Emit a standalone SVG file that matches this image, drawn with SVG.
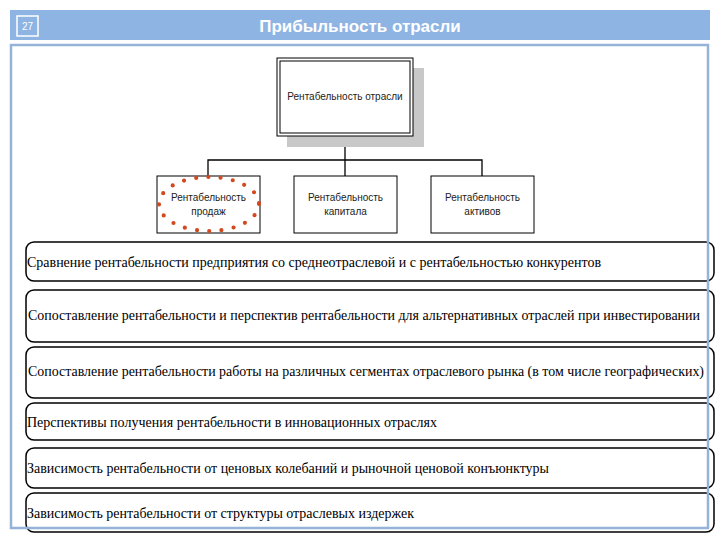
<svg xmlns="http://www.w3.org/2000/svg" width="720" height="540" viewBox="0 0 720 540">
<style>
.hdr{fill:#8eb4e3}
.ttl{font-family:'Liberation Sans',Arial,sans-serif;font-weight:bold;font-size:17px;fill:#fff}
.org{fill:#fff;stroke:#000;stroke-width:1}
.ot{font-family:'Liberation Sans',Arial,sans-serif;font-size:10px;fill:#222;text-anchor:middle}
.rb{fill:#fff;stroke:#000;stroke-width:1.5}
.bt{font-family:'Liberation Serif','Times New Roman',serif;font-size:14.5px;fill:#000}
.bs{font-family:'Liberation Serif','Times New Roman',serif;font-size:14px;fill:#000}
.con{stroke:#000;stroke-width:1.3;fill:none}
</style>
<rect width="720" height="540" fill="#fff"/>
<g id="header">
<rect class="hdr" x="10" y="10" width="700" height="30"/>
<rect x="17" y="16" width="21" height="20" fill="none" stroke="#fff" stroke-width="1.5"/>
<text x="27.5" y="30" font-family="'Liberation Sans',Arial,sans-serif" font-size="10" fill="#fff" text-anchor="middle">27</text>
<text class="ttl" x="360" y="32" text-anchor="middle">Прибыльность отрасли</text>
</g>
<g id="connectors">
<path class="con" d="M345 136V160M208 176V160H482V176M345 160V176"/>
</g>
<g id="node-root">
<rect x="287" y="68" width="137" height="79" fill="#c8c8c8"/>
<rect class="org" x="277" y="58" width="136" height="78" stroke-width="1.5"/>
<rect x="280" y="61" width="130" height="72" fill="none" stroke="#000" stroke-width="1"/>
<text class="ot" x="345" y="100">Рентабельность отрасли</text>
</g>
<g id="node-sales">
<rect class="org" x="157" y="176" width="103" height="57"/>
<text class="ot" x="208.5" y="201">Рентабельность</text>
<text class="ot" x="208.5" y="215">продаж</text>
<ellipse cx="209" cy="204" rx="50" ry="27" fill="none" stroke="#d2491e" stroke-width="4.2" stroke-linecap="round" stroke-dasharray="0 12.3"/>
</g>
<g id="node-capital">
<rect class="org" x="294" y="176" width="103" height="57"/>
<text class="ot" x="345.5" y="201">Рентабельность</text>
<text class="ot" x="345.5" y="215">капитала</text>
</g>
<g id="node-assets">
<rect class="org" x="431" y="176" width="103" height="57"/>
<text class="ot" x="482.5" y="201">Рентабельность</text>
<text class="ot" x="482.5" y="215">активов</text>
</g>
<g id="item1">
<rect class="rb" x="26" y="242" width="688" height="39" rx="8"/>
<text class="bt" x="27" y="267" textLength="574" lengthAdjust="spacingAndGlyphs">Сравнение рентабельности предприятия со среднеотраслевой и с рентабельностью конкурентов</text>
</g>
<g id="item2">
<rect class="rb" x="26" y="290" width="688" height="52" rx="8"/>
<text class="bs" x="28" y="320" textLength="672" lengthAdjust="spacingAndGlyphs">Сопоставление рентабельности и перспектив рентабельности для альтернативных отраслей при инвестировании</text>
</g>
<g id="item3">
<rect class="rb" x="26" y="347" width="688" height="51" rx="8"/>
<text class="bs" x="28" y="376" textLength="676" lengthAdjust="spacingAndGlyphs">Сопоставление рентабельности работы на различных сегментах отраслевого рынка (в том числе географических)</text>
</g>
<g id="item4">
<rect class="rb" x="26" y="403" width="688" height="37" rx="8"/>
<text class="bt" x="27" y="427" textLength="410" lengthAdjust="spacingAndGlyphs">Перспективы получения рентабельности в инновационных отраслях</text>
</g>
<g id="item5">
<rect class="rb" x="26" y="448" width="688" height="40" rx="8"/>
<text class="bt" x="27" y="473" textLength="522" lengthAdjust="spacingAndGlyphs">Зависимость рентабельности от ценовых колебаний и рыночной ценовой конъюнктуры</text>
</g>
<g id="item6">
<rect class="rb" x="26" y="493" width="688" height="39" rx="8"/>
<text class="bt" x="27" y="518" textLength="387" lengthAdjust="spacingAndGlyphs">Зависимость рентабельности от структуры отраслевых издержек</text>
</g>
<g id="frame">
<rect x="11" y="45" width="697" height="483" fill="none" stroke="#95b3d7" stroke-width="2.5"/>
</g>
</svg>
